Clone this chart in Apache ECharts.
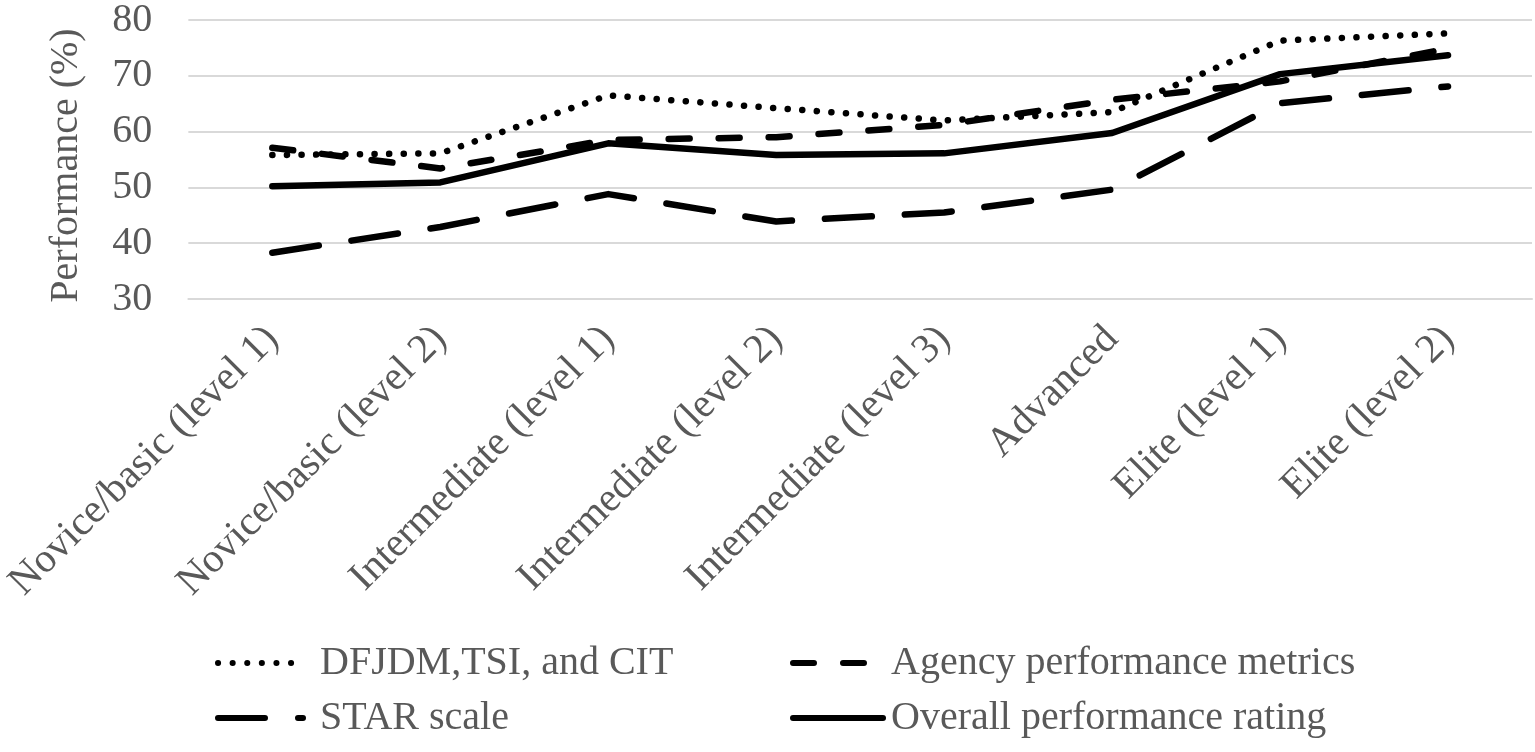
<!DOCTYPE html>
<html>
<head>
<meta charset="utf-8">
<script src="https://cdn.jsdelivr.net/npm/echarts@6/dist/echarts.min.js"></script>
<style>html,body{margin:0;padding:0;background:#fff;}#c{width:1535px;height:752px;}</style>
</head>
<body>
<div id="c"></div>
<script>
const categories = ['Novice/basic (level 1)','Novice/basic (level 2)','Intermediate (level 1)','Intermediate (level 2)','Intermediate (level 3)','Advanced','Elite (level 1)','Elite (level 2)'];
const dfjdm = [55.8, 56.1, 66.5, 64.2, 62.0, 63.5, 76.3, 77.6];
const agency = [57.1, 53.4, 58.5, 59.0, 61.2, 65.7, 69.0, 74.9];
const star = [38.3, 42.9, 48.8, 43.9, 45.5, 49.6, 65.1, 68.1];
const overall = [50.2, 50.9, 57.9, 55.8, 56.1, 59.75, 70.3, 73.7];
const yTicks = [30, 40, 50, 60, 70, 80];
const names = ['DFJDM,TSI, and CIT', 'Agency performance metrics', 'STAR scale', 'Overall performance rating'];

const FONT = "'Liberation Serif','Times New Roman',serif";
const TXT = '#595959';
const chart = echarts.init(document.getElementById('c'));

function mkLegend(name, left, top, w, pad) {
  return {
    data: [name], left: left, top: top, itemWidth: w, itemHeight: 14,
    padding: 0, selectedMode: false,
    itemStyle: { opacity: 0 },
    lineStyle: { width: 6, cap: 'round' },
    textStyle: { fontFamily: FONT, fontSize: 40, lineHeight: 44, color: TXT, padding: [0, 0, 0, pad] }
  };
}
function mkSeries(name, data, dash) {
  return {
    name: name, type: 'line', data: data, symbol: 'none', smooth: false,
    lineStyle: { color: '#000', width: 6.5, type: dash, cap: 'round', join: 'round' },
    itemStyle: { color: '#000' }
  };
}

chart.setOption({
  animation: false,
  grid: { left: 184, right: 3, top: 19, bottom: 453, containLabel: false },
  xAxis: {
    type: 'category', data: categories, boundaryGap: true,
    axisLine: { show: true, lineStyle: { color: '#d9d9d9', width: 2 } },
    axisTick: { show: false },
    axisLabel: { interval: 0, rotate: 45, margin: 34, fontFamily: FONT, fontSize: 41, color: TXT }
  },
  yAxis: {
    type: 'value', min: yTicks[0], max: yTicks[yTicks.length - 1], interval: 10,
    name: 'Performance (%)', nameLocation: 'middle', nameGap: 102,
    nameTextStyle: { fontFamily: FONT, fontSize: 40, color: TXT, padding: [0, 12, 0, 0] },
    axisLine: { show: false }, axisTick: { show: false },
    axisLabel: { margin: 36, fontFamily: FONT, fontSize: 40, color: TXT },
    splitLine: { lineStyle: { color: '#d9d9d9', width: 2 } }
  },
  legend: [
    mkLegend(names[0], 215, 641, 80, 17),
    mkLegend(names[1], 790, 641, 80, 13),
    mkLegend(names[2], 215, 696, 85, 12),
    mkLegend(names[3], 790, 696, 90, 3)
  ],
  series: [
    mkSeries(names[0], dfjdm, [0.1, 14.5]),
    mkSeries(names[1], agency, [21, 29]),
    mkSeries(names[2], star, [47, 33]),
    mkSeries(names[3], overall, 'solid')
  ]
});
</script>
</body>
</html>
